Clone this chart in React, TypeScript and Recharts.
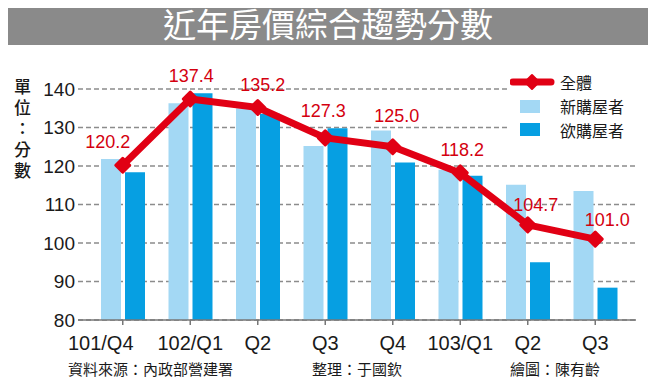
import { ComposedChart, Bar, Line, XAxis, YAxis, CartesianGrid, LabelList } from 'recharts'

const quarters = ['101/Q4', '102/Q1', 'Q2', 'Q3', 'Q4', '103/Q1', 'Q2', 'Q3']
const overall = [120.2, 137.4, 135.2, 127.3, 125.0, 118.2, 104.7, 101.0]
const newBuyers = [121.8, 136.3, 135.0, 125.2, 129.2, 119.0, 115.1, 113.5]
const wantBuyers = [118.4, 138.9, 133.6, 129.8, 120.9, 117.5, 95.0, 88.4]
const yTicks = [80, 90, 100, 110, 120, 130, 140]

// nudges for the red value labels (dx, baseline offset above point)
const labelNudge = [
  [-15, 17], [1, 17], [5, 16], [-2, 21], [4, 25], [2, 17], [8, 14], [12, 13],
]

const RED = '#e10014'
const LIGHT = '#a3d8f4'
const DARK = '#069fe2'
const CJK = '"Noto Sans CJK TC", "Noto Sans", sans-serif'
const LATIN = '"Liberation Sans", Arial, sans-serif'

const data = quarters.map((q, i) => ({
  q,
  overall: overall[i],
  newBuyers: newBuyers[i],
  wantBuyers: wantBuyers[i],
}))

function Diamond({ cx, cy }: { cx?: number; cy?: number }) {
  if (cx == null || cy == null) return null
  const r = 7
  return (
    <path
      d={`M${cx},${cy - r} L${cx + r},${cy} L${cx},${cy + r} L${cx - r},${cy} Z`}
      fill={RED}
      stroke={RED}
      strokeWidth={3}
      strokeLinejoin="round"
    />
  )
}

function ValueLabel(props: any) {
  const { x, y, value, index } = props
  const [dx, dy] = labelNudge[index] || [0, 16]
  return (
    <text x={x + dx} y={y - dy} textAnchor="middle" fill="#d4000f" fontSize={18} fontFamily={LATIN}>
      {Number(value).toFixed(1)}
    </text>
  )
}

function QuarterTick(props: any) {
  const { x, y, payload, index } = props
  return (
    <text x={x + (index === 0 ? -22 : 0)} y={y} dy="0.71em" textAnchor="middle" fill="#1a1a1a" fontSize={20} fontFamily={LATIN}>
      {payload.value}
    </text>
  )
}

export default function App() {
  return (
    <div style={{ position: 'relative', width: 656, height: 387, background: '#8a8a8a', margin: -8, overflow: 'hidden' }}>
      <div style={{
        position: 'absolute', left: 0, top: 0, width: 656, height: 45, color: '#fff',
        fontFamily: CJK, fontSize: 33, lineHeight: '46px', textAlign: 'center',
      }}>
        近年房價綜合趨勢分數
      </div>
      <div style={{ position: 'absolute', left: 3, top: 45, width: 649, height: 338, background: '#fff' }} />

      <div style={{ position: 'absolute', left: 0, top: 0 }}>
        <ComposedChart width={656} height={387} data={data} margin={{ top: 89, right: 20, bottom: 37, left: 0 }}>
          <CartesianGrid vertical={false} stroke="#8c8c8c" strokeDasharray="5 3" strokeWidth={1.3} />
          <XAxis
            dataKey="q"
            height={30}
            padding={{ left: 11, right: 7 }}
            stroke="#777"
            strokeWidth={1.5}
            tickSize={5}
            tickMargin={11}
            tick={<QuarterTick />}
            interval={0}
          />
          <YAxis
            domain={[80, 140]}
            ticks={yTicks}
            width={78}
            axisLine={false}
            tickLine={false}
            tickSize={0}
            tickMargin={3}
            tick={{ fill: '#1a1a1a', fontSize: 19, fontFamily: LATIN }}
          />
          <Bar dataKey="newBuyers" fill={LIGHT} barSize={20} isAnimationActive={false} />
          <Bar dataKey="wantBuyers" fill={DARK} barSize={20} isAnimationActive={false} />
          <Line
            dataKey="overall"
            stroke={RED}
            strokeWidth={7}
            strokeLinejoin="round"
            dot={<Diamond />}
            activeDot={false}
            isAnimationActive={false}
          >
            <LabelList dataKey="overall" content={<ValueLabel />} />
          </Line>
        </ComposedChart>
      </div>

      {/* y-axis title, one character per line */}
      <div style={{
        position: 'absolute', left: 12, top: 75, width: 21, fontFamily: CJK, fontSize: 17,
        lineHeight: '21px', color: '#1a1a1a', textAlign: 'center', fontWeight: 500,
        wordBreak: 'break-all', lineBreak: 'anywhere',
      }}>
        單位：分數
      </div>

      {/* legend */}
      <div style={{ position: 'absolute', left: 507, top: 68, width: 130, height: 75, background: '#fff', fontFamily: CJK, fontSize: 16, color: '#1a1a1a' }}>
        <svg width={45} height={20} style={{ position: 'absolute', left: 3, top: 4 }}>
          <line x1={3} y1={10} x2={41} y2={10} stroke={RED} strokeWidth={7} strokeLinecap="round" />
          <path d="M22,3 L29,10 L22,17 L15,10 Z" fill={RED} stroke={RED} strokeWidth={2} strokeLinejoin="round" />
        </svg>
        <div style={{ position: 'absolute', left: 53, top: 3, lineHeight: '22px' }}>全體</div>
        <div style={{ position: 'absolute', left: 13, top: 32, width: 20, height: 13, background: LIGHT }} />
        <div style={{ position: 'absolute', left: 53, top: 27, lineHeight: '22px' }}>新購屋者</div>
        <div style={{ position: 'absolute', left: 13, top: 55, width: 20, height: 13, background: DARK }} />
        <div style={{ position: 'absolute', left: 53, top: 51, lineHeight: '22px' }}>欲購屋者</div>
      </div>

      {/* credits */}
      <div style={{ position: 'absolute', left: 68, top: 359, fontFamily: CJK, fontSize: 15, lineHeight: '20px', color: '#1a1a1a' }}>
        資料來源：內政部營建署
      </div>
      <div style={{ position: 'absolute', left: 312, top: 359, fontFamily: CJK, fontSize: 15, lineHeight: '20px', color: '#1a1a1a' }}>
        整理：于國欽
      </div>
      <div style={{ position: 'absolute', left: 510, top: 359, fontFamily: CJK, fontSize: 15, lineHeight: '20px', color: '#1a1a1a' }}>
        繪圖：陳有齡
      </div>
    </div>
  )
}
